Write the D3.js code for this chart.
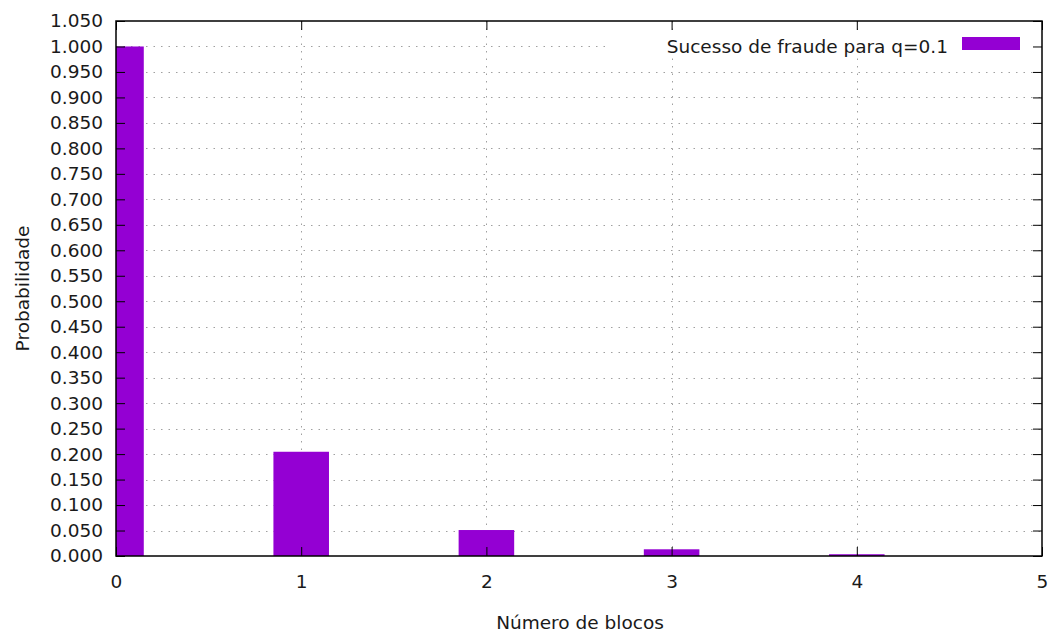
<!DOCTYPE html>
<html>
<head>
<meta charset="utf-8">
<script src="https://cdn.jsdelivr.net/npm/d3@7"></script>
<style>
  html, body { margin: 0; padding: 0; background: #fff; }
  svg { display: block; }
  text { font-family: "DejaVu Sans", Verdana, sans-serif; fill: #1a1a1a; }
</style>
</head>
<body>
<svg id="chart" width="1053" height="632"></svg>
<script>
// Probability that an attacker with q = 0.1 catches up from z blocks behind
const blocks = [0, 1, 2, 3, 4];
const probabilities = [1.0, 0.2045873, 0.0509779, 0.0131722, 0.0034552];
const xTicks = [0, 1, 2, 3, 4, 5];
const yTicks = d3.range(0, 21 + 1).map(i => +(i * 0.05).toFixed(3));
const seriesLabel = "Sucesso de fraude para q=0.1";
const xTitle = "Número de blocos";
const yTitle = "Probabilidade";

const fontSize = 18.5;
const svg = d3.select("#chart");
const margin = { left: 116, right: 1042, top: 21, bottom: 556 };

const x = d3.scaleLinear().domain([0, 5]).range([margin.left, margin.right]);
const y = d3.scaleLinear().domain([0, 1.05]).range([margin.bottom, margin.top]);
const boxWidth = 0.3;

svg.append("defs").append("clipPath").attr("id", "plot-clip")
  .append("rect")
  .attr("x", margin.left).attr("y", margin.top)
  .attr("width", margin.right - margin.left).attr("height", margin.bottom - margin.top);

// dotted grid
const grid = svg.append("g").attr("stroke", "#a0a0a0").attr("stroke-width", 1)
  .attr("stroke-dasharray", "1.5,6");
grid.selectAll("line.h").data(yTicks.filter(v => v > 0 && v < 1.05)).join("line")
  .attr("x1", margin.left).attr("x2", margin.right)
  .attr("y1", d => Math.round(y(d)) + 0.5).attr("y2", d => Math.round(y(d)) + 0.5);
grid.selectAll("line.v").data(xTicks.filter(v => v > 0 && v < 5)).join("line")
  .attr("y1", margin.top).attr("y2", margin.bottom)
  .attr("x1", d => Math.round(x(d)) + 0.5).attr("x2", d => Math.round(x(d)) + 0.5);

// bars
svg.append("g").attr("clip-path", "url(#plot-clip)")
  .selectAll("rect").data(blocks).join("rect")
  .attr("x", (d) => x(d - boxWidth / 2))
  .attr("width", (d) => x(d + boxWidth / 2) - x(d - boxWidth / 2))
  .attr("y", (d, i) => y(probabilities[i]))
  .attr("height", (d, i) => y(0) - y(probabilities[i]))
  .attr("fill", "#9400d3");

// legend with opaque background
const legend = svg.append("g");
legend.append("rect").attr("x", 606).attr("y", 33).attr("width", 434).attr("height", 25).attr("fill", "#fff");
legend.append("text").attr("x", 948).attr("y", 53).attr("text-anchor", "end")
  .attr("font-size", fontSize).text(seriesLabel);
legend.append("rect").attr("x", 962).attr("y", 37).attr("width", 58).attr("height", 13).attr("fill", "#9400d3");

// axes (ticks inward, mirrored on top/right)
const tickLen = 9;
const axisBottom = d3.axisBottom(x).tickValues(xTicks).tickSizeInner(-tickLen).tickSizeOuter(0)
  .tickPadding(19).tickFormat(d3.format("d"));
const axisTop = d3.axisTop(x).tickValues(xTicks).tickSizeInner(-tickLen).tickSizeOuter(0).tickFormat("");
const axisLeft = d3.axisLeft(y).tickValues(yTicks).tickSizeInner(-tickLen).tickSizeOuter(0)
  .tickPadding(13).tickFormat(d3.format(".3f"));
const axisRight = d3.axisRight(y).tickValues(yTicks).tickSizeInner(-tickLen).tickSizeOuter(0).tickFormat("");

function style(g) {
  g.select(".domain").remove();
  g.selectAll(".tick line").attr("stroke", "#000").attr("stroke-width", 1);
  g.selectAll(".tick text").attr("font-size", fontSize).attr("fill", "#1a1a1a")
    .style("font-family", "\"DejaVu Sans\", Verdana, sans-serif");
}
svg.append("g").attr("transform", `translate(0,${margin.bottom})`).call(axisBottom).call(style);
svg.append("g").attr("transform", `translate(0,${margin.top})`).call(axisTop).call(style);
svg.append("g").attr("transform", `translate(${margin.left},0)`).call(axisLeft).call(style);
svg.append("g").attr("transform", `translate(${margin.right},0)`).call(axisRight).call(style);

// border
svg.append("rect")
  .attr("x", margin.left).attr("y", margin.top)
  .attr("width", margin.right - margin.left).attr("height", margin.bottom - margin.top)
  .attr("fill", "none").attr("stroke", "#000").attr("stroke-width", 1.5);

// titles
svg.append("text").attr("x", 580).attr("y", 629)
  .attr("text-anchor", "middle").attr("font-size", fontSize).text(xTitle);
svg.append("text").attr("transform", `translate(29,${(margin.top + margin.bottom) / 2}) rotate(-90)`)
  .attr("text-anchor", "middle").attr("font-size", fontSize).text(yTitle);
</script>
</body>
</html>
